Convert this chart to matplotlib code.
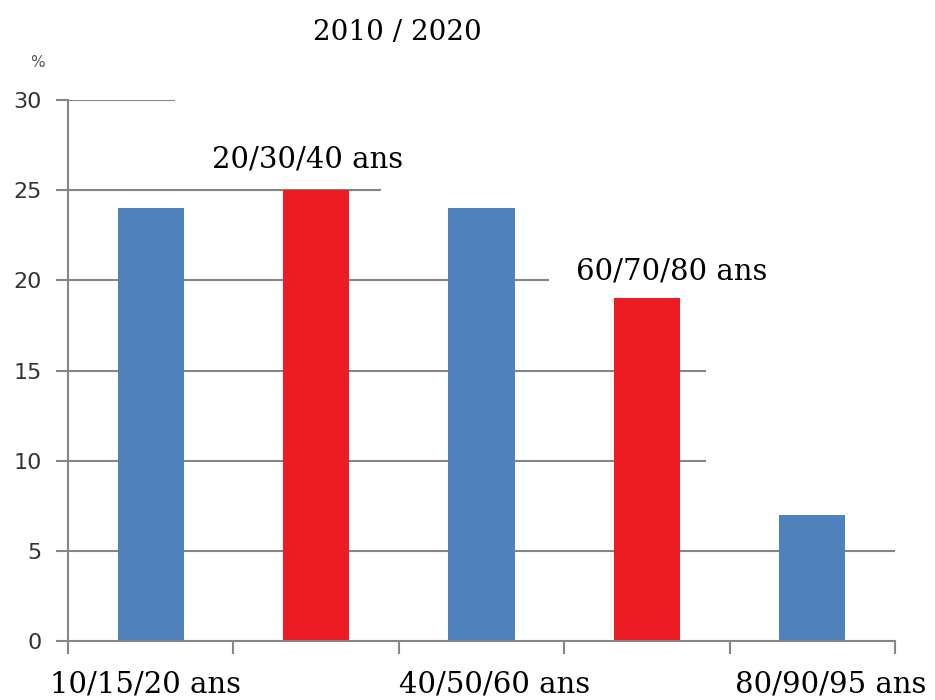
import matplotlib.pyplot as plt

# donnees
categories = ["10/15/20 ans", "20/30/40 ans", "40/50/60 ans", "60/70/80 ans", "80/90/95 ans"]
valeurs = [24, 25, 24, 19, 7]
couleurs = ["#4F81BD", "#ED1C24", "#4F81BD", "#ED1C24", "#4F81BD"]
y_ticks = [0, 5, 10, 15, 20, 25, 30]

# longueur des lignes de grille (en unites de x), telles que sur l'image
fin_grille = {30: 0.15, 25: 1.39, 20: 2.41, 15: 3.36, 10: 3.36, 5: 4.5}

gris = "#868686"
serif = "DejaVu Serif"

fig = plt.figure(figsize=(9.35, 7), dpi=100)
ax = fig.add_axes([0.0727, 0.0843, 0.8845, 0.7727])

x = list(range(len(categories)))

# lignes de grille partielles
for y, xfin in fin_grille.items():
    ax.hlines(y, -0.5, xfin, color=gris, linewidth=1.5, zorder=1)

ax.bar(x, valeurs, width=0.4, color=couleurs, zorder=2)

ax.set_xlim(-0.5, 4.5)
ax.set_ylim(0, 30)

# axes
for s in ["top", "right"]:
    ax.spines[s].set_visible(False)
for s in ["left", "bottom"]:
    ax.spines[s].set_color(gris)
    ax.spines[s].set_linewidth(1.5)

ax.set_yticks(y_ticks)
ax.tick_params(axis="y", length=9, width=1.5, color=gris, pad=10,
               labelsize=16, labelcolor="#333333")

# graduations x aux limites des categories, etiquettes sous les barres bleues
ax.set_xticks([i - 0.5 for i in range(len(categories) + 1)])
ax.set_xticklabels([])
ax.tick_params(axis="x", which="major", length=9, width=1.5, color=gris)
ax.set_xticks([-0.03, 2.08, 4.11], minor=True)
ax.set_xticklabels([categories[0], categories[2], categories[4]], minor=True,
                   fontfamily=serif, fontsize=21)
ax.tick_params(axis="x", which="minor", length=0, pad=21)

# etiquettes au-dessus des barres rouges
ax.text(0.95, 26.7, categories[1], ha="center", va="center",
        fontfamily=serif, fontsize=21)
ax.text(3.15, 20.5, categories[3], ha="center", va="center",
        fontfamily=serif, fontsize=21)

fig.text(0.425, 0.954, "2010 / 2020", ha="center", va="center",
         fontfamily=serif, fontsize=20)
fig.text(0.04, 0.911, "%", ha="center", va="center", fontsize=11, color="#555555")

fig.savefig("out.png", dpi=100)
